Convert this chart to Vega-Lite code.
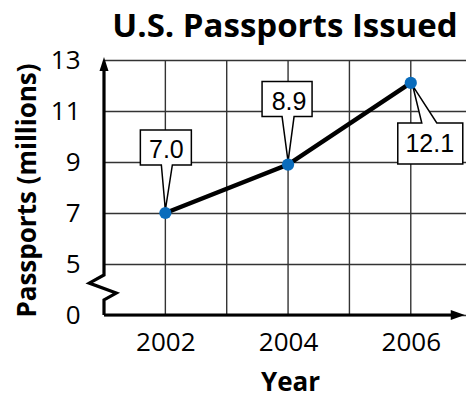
{
  "$schema": "https://vega.github.io/schema/vega-lite/v6.json",
  "width": 362,
  "height": 255,
  "autosize": "none",
  "padding": {"left": 104, "top": 60, "right": 0, "bottom": 83},
  "background": "white",
  "config": {"view": {"stroke": null}},
  "title": {
    "text": "U.S. Passports Issued",
    "font": "Open Sans",
    "fontSize": 33,
    "fontWeight": "bold",
    "color": "black",
    "anchor": "middle",
    "offset": 3
  },
  "datasets": {
    "pass": [
      {"year": 2002, "value": 7.0, "label": "7.0"},
      {"year": 2004, "value": 8.9, "label": "8.9"},
      {"year": 2006, "value": 12.1, "label": "12.1"}
    ],
    "gridyears": [
      {"year": 2002}, {"year": 2003}, {"year": 2004}, {"year": 2005}, {"year": 2006}
    ],
    "frame": [
      {"part": "y", "i": 0, "x": 2001, "y": 12.7},
      {"part": "y", "i": 1, "x": 2001, "y": 4.57},
      {"part": "y", "i": 2, "x": 2000.76, "y": 4.25},
      {"part": "y", "i": 3, "x": 2001.2, "y": 3.86},
      {"part": "y", "i": 4, "x": 2001, "y": 3.59},
      {"part": "y", "i": 5, "x": 2001, "y": 3},
      {"part": "x", "i": 0, "x": 2001, "y": 3},
      {"part": "x", "i": 1, "x": 2006.7, "y": 3}
    ],
    "arrows": [
      {"dir": "up", "x": 2001, "y": 13.12},
      {"dir": "right", "x": 2006.88, "y": 3}
    ]
  },
  "encoding": {
    "x": {
      "type": "quantitative",
      "scale": {"domain": [2001, 2006.9], "nice": false, "zero": false},
      "axis": {
        "values": [2002, 2004, 2006],
        "format": "d",
        "domain": false,
        "ticks": false,
        "grid": false,
        "labelFont": "Open Sans",
        "labelFontSize": 26,
        "labelColor": "black",
        "labelPadding": 14,
        "title": "Year",
        "titleFont": "Open Sans",
        "titleFontSize": 26,
        "titleFontWeight": "bold",
        "titleColor": "black",
        "titleX": 186,
        "titleY": 75,
        "titleBaseline": "alphabetic",
        "titleAlign": "center"
      }
    },
    "y": {
      "type": "quantitative",
      "scale": {"domain": [3, 13], "nice": false, "zero": false},
      "axis": {
        "values": [3, 5, 7, 9, 11, 13],
        "labelExpr": "datum.value == 3 ? '0' : datum.value + ''",
        "domain": false,
        "ticks": false,
        "grid": true,
        "gridColor": "#333",
        "gridWidth": 1.4,
        "labelFont": "Open Sans",
        "labelFontSize": 26,
        "labelColor": "black",
        "labelPadding": 24,
        "title": "Passports (millions)",
        "titleFont": "Open Sans",
        "titleFontSize": 26,
        "titleFontWeight": "bold",
        "titleColor": "black",
        "titleAngle": -90,
        "titleX": -69,
        "titleY": 130,
        "titleBaseline": "alphabetic",
        "titleAlign": "center"
      }
    }
  },
  "layer": [
    {
      "data": {"name": "gridyears"},
      "mark": {"type": "rule", "color": "#333", "strokeWidth": 1.4},
      "encoding": {"x": {"field": "year"}, "y": {"datum": 3}, "y2": {"datum": 13}}
    },
    {
      "data": {"name": "pass"},
      "mark": {"type": "line", "color": "black", "strokeWidth": 4.5},
      "encoding": {"x": {"field": "year"}, "y": {"field": "value"}}
    },
    {
      "data": {"name": "pass"},
      "transform": [{"filter": "datum.year == 2002"}],
      "mark": {"type": "point", "filled": true, "fill": "white", "stroke": "black", "strokeWidth": 1.5, "opacity": 1, "size": 4,
        "shape": "M-4,-48L-25,-48L-25,-83L26,-83L26,-48L7,-48L0,-3Z"},
      "encoding": {"x": {"field": "year"}, "y": {"field": "value"}}
    },
    {
      "data": {"name": "pass"},
      "transform": [{"filter": "datum.year == 2004"}],
      "mark": {"type": "point", "filled": true, "fill": "white", "stroke": "black", "strokeWidth": 1.5, "opacity": 1, "size": 4,
        "shape": "M-6,-48L-26,-48L-26,-83L24,-83L24,-48L6,-48L0,-3Z"},
      "encoding": {"x": {"field": "year"}, "y": {"field": "value"}}
    },
    {
      "data": {"name": "pass"},
      "transform": [{"filter": "datum.year == 2006"}],
      "mark": {"type": "point", "filled": true, "fill": "white", "stroke": "black", "strokeWidth": 1.5, "opacity": 1, "size": 4,
        "shape": "M11,40L-13,40L-13,81L52,81L52,40L26,40L2,3Z"},
      "encoding": {"x": {"field": "year"}, "y": {"field": "value"}}
    },
    {
      "data": {"name": "pass"},
      "transform": [{"filter": "datum.year != 2006"}],
      "mark": {"type": "text", "font": "Liberation Sans", "fontSize": 25, "color": "black", "baseline": "middle", "align": "center", "dy": -63, "dx": 1},
      "encoding": {"x": {"field": "year"}, "y": {"field": "value"}, "text": {"field": "label"}}
    },
    {
      "data": {"name": "pass"},
      "transform": [{"filter": "datum.year == 2006"}],
      "mark": {"type": "text", "font": "Liberation Sans", "fontSize": 25, "color": "black", "baseline": "middle", "align": "center", "dy": 61, "dx": 19},
      "encoding": {"x": {"field": "year"}, "y": {"field": "value"}, "text": {"field": "label"}}
    },
    {
      "data": {"name": "pass"},
      "mark": {"type": "point", "filled": true, "shape": "circle", "size": 150, "color": "#0a6cbc", "opacity": 1},
      "encoding": {"x": {"field": "year"}, "y": {"field": "value"}}
    },
    {
      "data": {"name": "frame"},
      "mark": {"type": "line", "color": "black", "strokeWidth": 3.2, "strokeJoin": "miter"},
      "encoding": {"x": {"field": "x"}, "y": {"field": "y"}, "detail": {"field": "part"}, "order": {"field": "i"}}
    },
    {
      "data": {"name": "arrows"},
      "transform": [{"filter": "datum.dir == 'up'"}],
      "mark": {"type": "point", "filled": true, "color": "black", "opacity": 1, "size": 4, "shape": "M0,0L-4.5,14L4.5,14Z"},
      "encoding": {"x": {"field": "x"}, "y": {"field": "y"}}
    },
    {
      "data": {"name": "arrows"},
      "transform": [{"filter": "datum.dir == 'right'"}],
      "mark": {"type": "point", "filled": true, "color": "black", "opacity": 1, "size": 4, "shape": "M0,0L-14,-5L-14,5Z"},
      "encoding": {"x": {"field": "x"}, "y": {"field": "y"}}
    }
  ]
}
